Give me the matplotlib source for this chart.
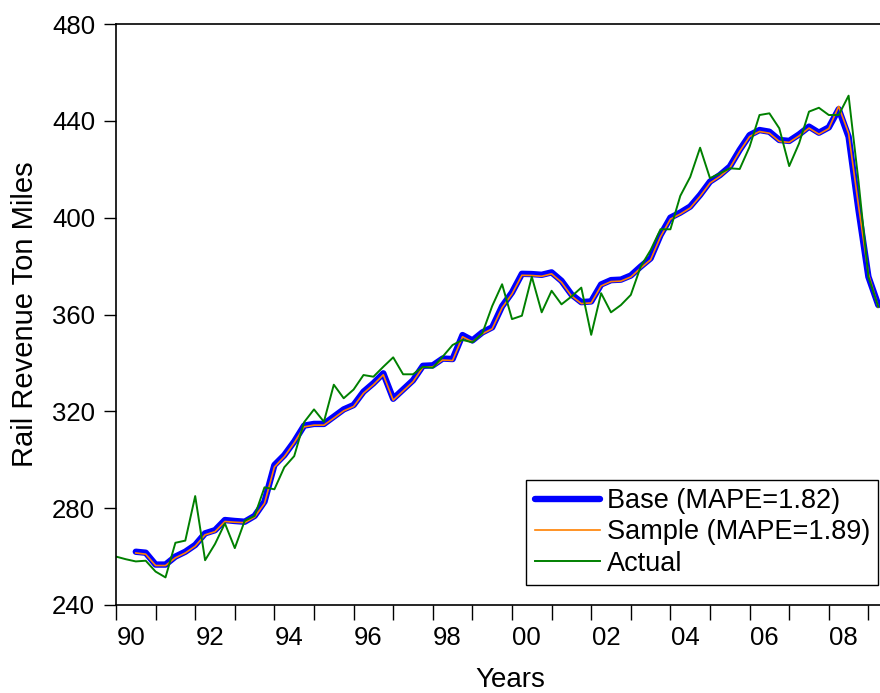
import numpy as np
import pandas as pd
import matplotlib
matplotlib.use('Agg')
import matplotlib.pyplot as plt

plt.rcParams['font.family'] = ['Liberation Sans', 'DejaVu Sans']

# quarterly data, 1990Q1 - 2009Q2
actual = [260.0, 258.9, 258.0, 258.3,
          253.8, 251.4, 265.7, 266.6,
          285.0, 258.5, 265.2, 273.7,
          263.5, 274.8, 276.8, 288.6,
          287.8, 296.9, 301.5, 315.5,
          320.8, 315.7, 331.0, 325.4,
          329.0, 335.0, 334.3, 338.4,
          342.3, 335.3, 335.3, 338.4,
          338.0, 342.6, 347.4, 349.5,
          348.5, 352.2, 363.5, 372.5,
          358.1, 359.5, 375.6, 360.9,
          369.8, 364.2, 367.4, 371.1,
          351.6, 368.8, 360.9, 363.9,
          368.1, 379.8, 386.6, 395.2,
          395.2, 409.0, 416.8, 428.9,
          416.3, 418.3, 420.4, 420.1,
          429.3, 442.4, 443.1, 436.9,
          421.3, 430.7, 443.8, 445.4,
          442.4, 442.4, 450.4, 415.0,
          375.6, 363.2]

# forecasts start 1990Q3
base = [262.0, 261.6,
        256.7, 256.7, 260.0, 262.0,
        264.8, 269.6, 270.9, 275.1,
        274.7, 274.4, 276.8, 282.7,
        297.8, 301.9, 307.5, 314.1,
        314.8, 314.8, 317.8, 320.8,
        322.6, 328.1, 331.6, 335.7,
        325.2, 329.0, 332.8, 338.8,
        339.0, 341.8, 341.6, 351.5,
        349.3, 352.6, 354.7, 363.4,
        369.1, 376.8, 376.7, 376.4,
        377.4, 373.9, 368.3, 365.1,
        365.4, 372.4, 374.2, 374.4,
        376.1, 379.8, 383.2, 392.8,
        400.0, 402.1, 404.6, 409.4,
        414.9, 417.6, 421.1, 428.0,
        434.1, 436.2, 435.5, 432.1,
        431.7, 434.4, 437.6, 435.1,
        437.3, 444.8, 433.4, 403.2,
        375.6, 363.9]

sample = [261.5, 261.0,
          256.3, 256.3, 259.5, 261.5,
          264.3, 269.0, 270.3, 274.5,
          274.2, 274.0, 276.3, 282.0,
          297.0, 301.3, 307.0, 313.6,
          314.3, 314.3, 317.2, 320.2,
          322.0, 327.5, 331.0, 335.1,
          324.6, 328.4, 332.2, 338.2,
          338.4, 341.2, 341.0, 350.8,
          348.7, 352.0, 354.1, 362.8,
          368.5, 376.2, 376.1, 375.8,
          376.8, 373.3, 367.7, 364.5,
          364.8, 371.8, 373.6, 373.8,
          375.5, 379.2, 382.6, 392.1,
          399.4, 401.5, 404.0, 408.8,
          414.3, 417.0, 420.5, 427.4,
          433.5, 435.6, 434.9, 431.5,
          431.1, 433.8, 437.0, 434.5,
          436.8, 446.0, 434.8, 405.0,
          376.8, 363.0]

periods = pd.period_range('1990Q1', '2009Q2', freq='Q')
t = np.array([p.year + (p.quarter - 1) / 4 for p in periods])
t_fc = t[2:]

fig = plt.figure(figsize=(8.8, 6.93), dpi=100)
ax = fig.add_axes([116 / 880, 88 / 693, 770 / 880, 581 / 693])

ax.plot(t_fc, base, color='#0000ff', lw=4.6, solid_capstyle='round', label='Base (MAPE=1.82)')
ax.plot(t_fc, sample, color='#ff8000', lw=1.2, label='Sample (MAPE=1.89)')
ax.plot(t, actual, color='#008000', lw=1.4, label='Actual')

ax.set_xlim(1990, 1990 + 770 / 39.6)
ax.set_ylim(240, 480)
ax.set_yticks(np.arange(240, 481, 40))

years = np.arange(1990, 2010)
ax.set_xticks(years)
ax.set_xticklabels([])
lab_years = np.arange(1990, 2009, 2)
ax.set_xticks(lab_years + 0.37, ['%02d' % (y % 100) for y in lab_years], minor=True)

ax.tick_params(axis='x', which='major', direction='out', length=11, width=1)
ax.tick_params(axis='x', which='minor', length=0, pad=15, labelsize=18.5)
ax.tick_params(axis='y', direction='out', length=9, width=1, pad=6, labelsize=18.5)

for s in ['left', 'bottom', 'top']:
    ax.spines[s].set_linewidth(1.2)
ax.spines['right'].set_visible(False)

ax.set_xlabel('Years', fontsize=20)
ax.xaxis.set_label_coords((510 - 116) / 770, (605 - 680) / 581)
ax.xaxis.label.set_va('center')
ax.set_ylabel('Rail Revenue Ton Miles', fontsize=21)
ax.yaxis.set_label_coords((25 - 116) / 770, 0.5)
ax.yaxis.label.set_va('center')

leg = ax.legend(loc='lower right', bbox_to_anchor=(878 / 880, 1 - 585 / 693),
                bbox_transform=fig.transFigure, borderaxespad=0, fontsize=19.5,
                handlelength=2.4, handletextpad=0.26, labelspacing=0.2,
                borderpad=0.3, fancybox=False, framealpha=1)
leg.get_frame().set_edgecolor('black')
leg.get_frame().set_linewidth(1.0)

fig.savefig('out.png', dpi=100)
